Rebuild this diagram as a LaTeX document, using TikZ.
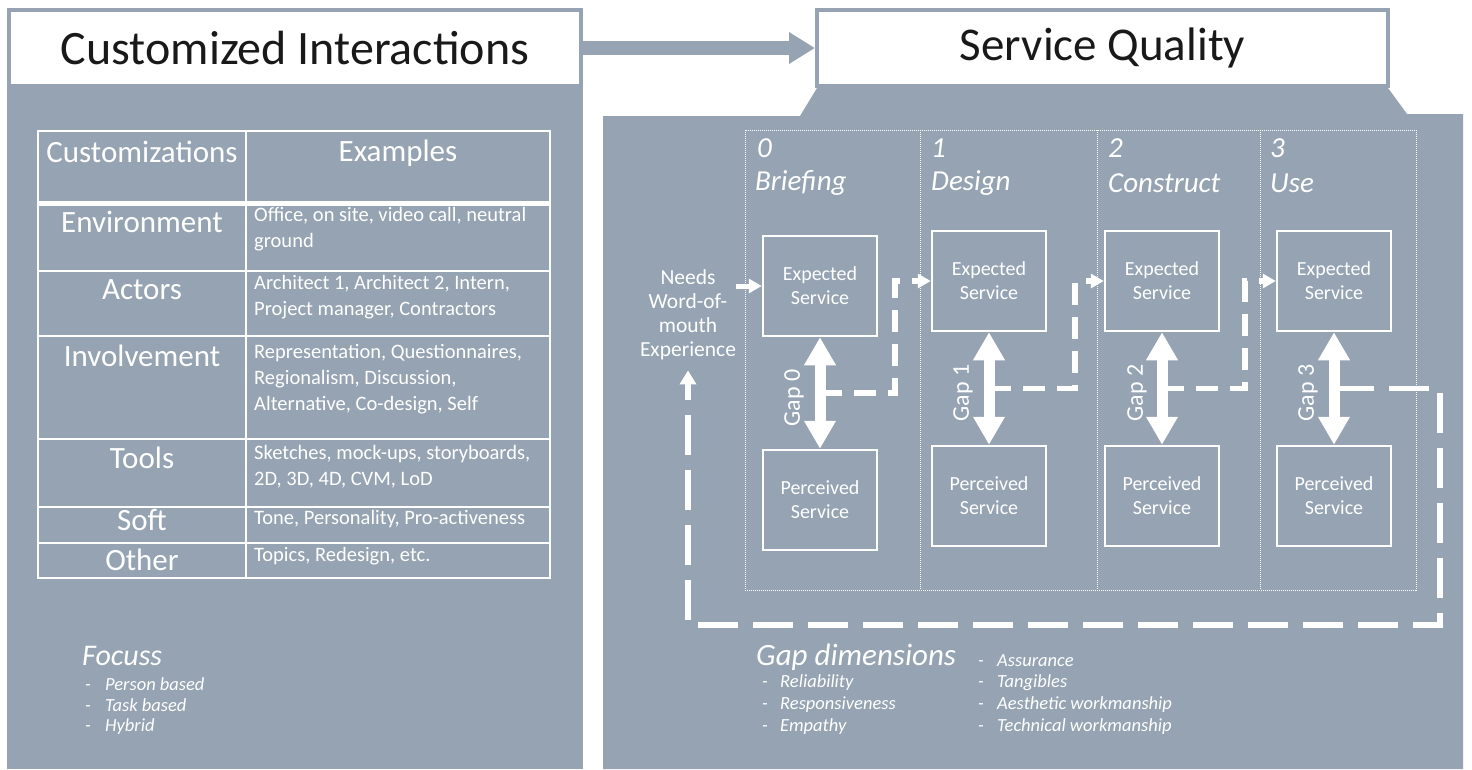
\documentclass[tikz,border=0pt]{standalone}
\usepackage{fontspec}
\setmainfont{Carlito}
\usetikzlibrary{arrows.meta,calc}
\definecolor{panel}{RGB}{149,163,178}
\definecolor{ink}{RGB}{25,25,25}
\newcommand\fsz[2]{\fontsize{#1}{#2}\selectfont}
\newcommand\dashitem[2]{\makebox[#1][l]{-}#2}

\begin{document}
\begin{tikzpicture}[x=1pt,y=-1pt,
  header/.style={draw=panel, line width=4pt, fill=white, minimum height=76pt,
    inner sep=0pt, text=ink},
  bigcell/.style={text=white, inner sep=0pt, font=\fsz{31}{34}},
  smallcell/.style={text=white, inner sep=0pt, font=\fsz{20.5}{26}, align=left, anchor=north west},
  stagenum/.style={text=white, inner sep=0pt, font=\itshape\fsz{29}{32}, anchor=west},
  svcbox/.style={draw=white, line width=2.5pt, minimum width=114pt, minimum height=100pt,
    inner sep=0pt, text=white, align=center, font=\fsz{20}{24}},
  gaparrow/.style={white, line width=11pt,
    {Triangle[length=28pt,width=30pt]}-{Triangle[length=28pt,width=30pt]}},
  gaplabel/.style={text=white, rotate=90, inner sep=0pt, font=\fsz{24}{28}},
  linkdash/.style={white, line width=5.5pt, dash pattern=on 22pt off 12pt},
  loopdash/.style={white, line width=5.5pt, dash pattern=on 40pt off 15pt},
  tipsmall/.style={-{Triangle[length=13pt,width=14pt]}},
  stageframe/.style={white, line width=1pt, dash pattern=on 1pt off 1pt},
  tablerule/.style={white, line width=2pt},
  listtitle/.style={text=white, inner sep=0pt, font=\itshape\fsz{30}{34}, anchor=west},
  listitem/.style={text=white, inner sep=0pt, font=\itshape\fsz{18.5}{22}, anchor=west}
]
\useasboundingbox (0,0) rectangle (1472,769);
\fill[white] (0,0) rectangle (1472,769);

% ---------- panels ----------
\fill[panel] (7,88) rectangle (583,769);
\fill[panel] (603,769) -- (603,116) -- (800,116) -- (817,88) -- (1388,88)
  -- (1407,114) -- (1463,114) -- (1463,769) -- cycle;

% ---------- headers ----------
\node[header, minimum width=572pt, font=\fsz{48}{52}] (hdrL) at (295,48) {Customized Interactions};
\node[header, minimum width=571pt, font=\fsz{47}{52}] (hdrR) at (1102.5,48) {Service Quality};
\draw[panel, line width=14pt, -{Triangle[length=26pt,width=30pt]}] (hdrL.east) -- (hdrR.west);

% ---------- customization table ----------
\draw[tablerule] (38,131) rectangle (550,578);
\draw[tablerule] (246,131) -- (246,578);
\draw[white, line width=5pt] (38,203) -- (550,203);
\foreach \yy in {271,336,439,507,543}
  \draw[tablerule] (38,\yy) -- (550,\yy);

\node[bigcell] (thA) at (142,152) {Customizations};
\node[bigcell] (thB) at (398,153) {Examples};
\node[bigcell] (tEnv) at (142,222) {Environment};
\node[bigcell] (tAct) at (142,290) {Actors};
\node[bigcell] (tInv) at (142,356) {Involvement};
\node[bigcell] (tToo) at (142,458) {Tools};
\node[bigcell] (tSof) at (142,520) {Soft};
\node[bigcell] (tOth) at (142,560) {Other};

\node[smallcell] (xEnv) at (254,207) {Office, on site, video call, neutral\\ground};
\node[smallcell] (xAct) at (254,275) {Architect 1, Architect 2, Intern,\\Project manager, Contractors};
\node[smallcell] (xInv) at (254,344) {Representation, Questionnaires,\\Regionalism, Discussion,\\Alternative, Co-design, Self};
\node[smallcell] (xToo) at (254,445) {Sketches, mock-ups, storyboards,\\2D, 3D, 4D, CVM, LoD};
\node[smallcell] (xSof) at (254,510) {Tone, Personality, Pro-activeness};
\node[smallcell] (xOth) at (254,547) {Topics, Redesign, etc.};

% ---------- focus list ----------
\node[listtitle] (focT) at (82,656) {Focuss};
\node[listitem] (fi1) at (85,684) {\dashitem{20pt}{Person based}};
\node[listitem] (fi2) at (85,705) {\dashitem{20pt}{Task based}};
\node[listitem] (fi3) at (85,727) {\dashitem{20pt}{Hybrid}};

% ---------- stage frames ----------
\draw[stageframe] (745,130) rectangle (1416,590);
\foreach \xx in {920,1097,1260}
  \draw[stageframe] (\xx,130) -- (\xx,590);

\node[stagenum] (s0n) at (757,148) {0};
\node[stagenum] (s0t) at (755,183) {Briefing};
\node[stagenum] (s1n) at (931,148) {1};
\node[stagenum] (s1t) at (931,183) {Design};
\node[stagenum] (s2n) at (1108,148) {2};
\node[stagenum] (s2t) at (1108,183) {Construct};
\node[stagenum] (s3n) at (1270,148) {3};
\node[stagenum] (s3t) at (1270,183) {Use};

% ---------- expected / perceived service ----------
\node[svcbox] (e0) at (820,286) {Expected\\Service};
\node[svcbox] (e1) at (989,281) {Expected\\Service};
\node[svcbox] (e2) at (1162,281) {Expected\\Service};
\node[svcbox] (e3) at (1334,281) {Expected\\Service};
\node[svcbox] (p0) at (820,500) {Perceived\\Service};
\node[svcbox] (p1) at (989,496) {Perceived\\Service};
\node[svcbox] (p2) at (1162,496) {Perceived\\Service};
\node[svcbox] (p3) at (1334,496) {Perceived\\Service};

% gap arrows and their labels
\foreach \i/\lx/\ly in {0/794/398,1/963/393,2/1137/393,3/1308/393}{
  \draw[gaparrow] (e\i.south) -- (p\i.north);
  \coordinate (g\i) at ($(e\i.south)!0.5!(p\i.north)$);
  \node[gaplabel] (gl\i) at (\lx,\ly) {Gap \i};
}

% inputs
\node[text=white, inner sep=0pt, align=center, font=\fsz{21.5}{24}] (needs) at (688,315)
  {Needs\\Word-of-\\mouth\\Experience};
\draw[white, line width=5pt, tipsmall] (needs.east |- e0.west) -- (e0.west);

% links from each gap to the next stage
\draw[linkdash, tipsmall] (g0) -- ++(75,0) |- (e1.west);
\draw[linkdash, tipsmall] (g1) -- ++(86,0) |- (e2.west);
\draw[linkdash, tipsmall] (g2) -- ++(83,0) |- (e3.west);

% feedback loop back to the needs
\coordinate (loopR) at (1440,625);
\draw[loopdash, -{Triangle[length=14pt,width=16pt]}] (g3) -| (loopR) -| ([yshift=-10pt]needs.south);

% ---------- gap dimensions ----------
\node[listtitle, font=\itshape\fsz{31}{34}] (gdT) at (756,657) {Gap dimensions};
\foreach \yy/\txt [count=\k] in {683/Reliability,705/Responsiveness,727/Empathy}
  \node[listitem] (gdL\k) at (762,\yy) {\dashitem{18pt}{\txt}};
\foreach \yy/\txt [count=\k] in {661/Assurance,683/Tangibles,705/Aesthetic workmanship,727/Technical workmanship}
  \node[listitem] (gdR\k) at (978,\yy) {\dashitem{19pt}{\txt}};
\end{tikzpicture}
\end{document}
